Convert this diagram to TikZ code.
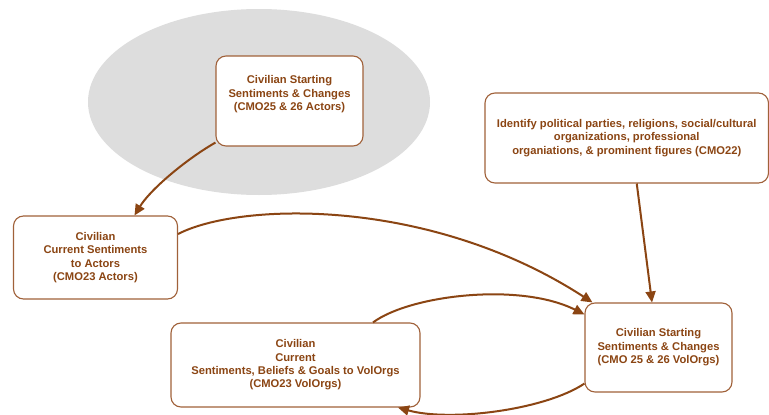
\documentclass[tikz,border=0pt]{standalone}
\usepackage{fontspec}
\setmainfont{Liberation Sans}
\usetikzlibrary{arrows.meta,calc}
\definecolor{brn}{HTML}{8B4513}
\definecolor{bbox}{HTML}{A0613A}
\definecolor{elfill}{HTML}{DDDDDD}
\tikzset{
  box/.style={draw=bbox, line width=1.1pt, rounded corners=10pt, fill=white,
    align=center, inner sep=0pt, text=brn,
    font=\fontsize{11.2}{13.4}\selectfont\bfseries},
  conn/.style={draw=brn, line width=2pt, -{Triangle[length=11pt,width=10pt]}}
}
\begin{document}
\begin{tikzpicture}[x=1pt,y=-1pt]
\useasboundingbox (0,0) rectangle (769,415);
\fill[white] (0,0) rectangle (769,415);
\fill[elfill] (259,102) ellipse [x radius=171, y radius=93];
\node[box, minimum width=147pt, minimum height=90pt] (A) at (289.5,101)
  {Civilian Starting\\Sentiments \& Changes\\(CMO25 \& 26 Actors)\\[2pt]};
\node[box, minimum width=164pt, minimum height=83pt] (B) at (95.5,257.5)
  {Civilian\\Current Sentiments\\to Actors\\(CMO23 Actors)};
\node[box, minimum width=283.5pt, minimum height=90pt] (C) at (626.75,138)
  {Identify political parties, religions, social/cultural\\organizations, professional\\organiations, \& prominent figures (CMO22)};
\node[box, minimum width=147pt, minimum height=89pt] (D) at (658.5,347.5)
  {Civilian Starting\\Sentiments \& Changes\\(CMO 25 \& 26 VolOrgs)};
\node[box, minimum width=249pt, minimum height=84pt] (E) at (295.5,365)
  {Civilian\\Current\\Sentiments, Beliefs \& Goals to VolOrgs\\(CMO23 VolOrgs)};
% connectors
\draw[conn] ([yshift=4pt]A.south west) .. controls (185,160) and (150,190) .. ([xshift=39pt]B.north);
\draw[conn] ([yshift=23.5pt]B.east) .. controls (240,202) and (430,197) .. ([xshift=8pt]D.north west);
\draw[conn] ([xshift=77.5pt]E.north) .. controls (410,295) and (520,282) .. ([yshift=-12pt]D.north west);
\draw[conn] ([xshift=10pt]C.south) -- ([xshift=-6.5pt]D.north);
\draw[conn] ([yshift=9pt]D.south west) .. controls (545,410) and (450,422) .. ([xshift=102.5pt]E.south);
\end{tikzpicture}
\end{document}
